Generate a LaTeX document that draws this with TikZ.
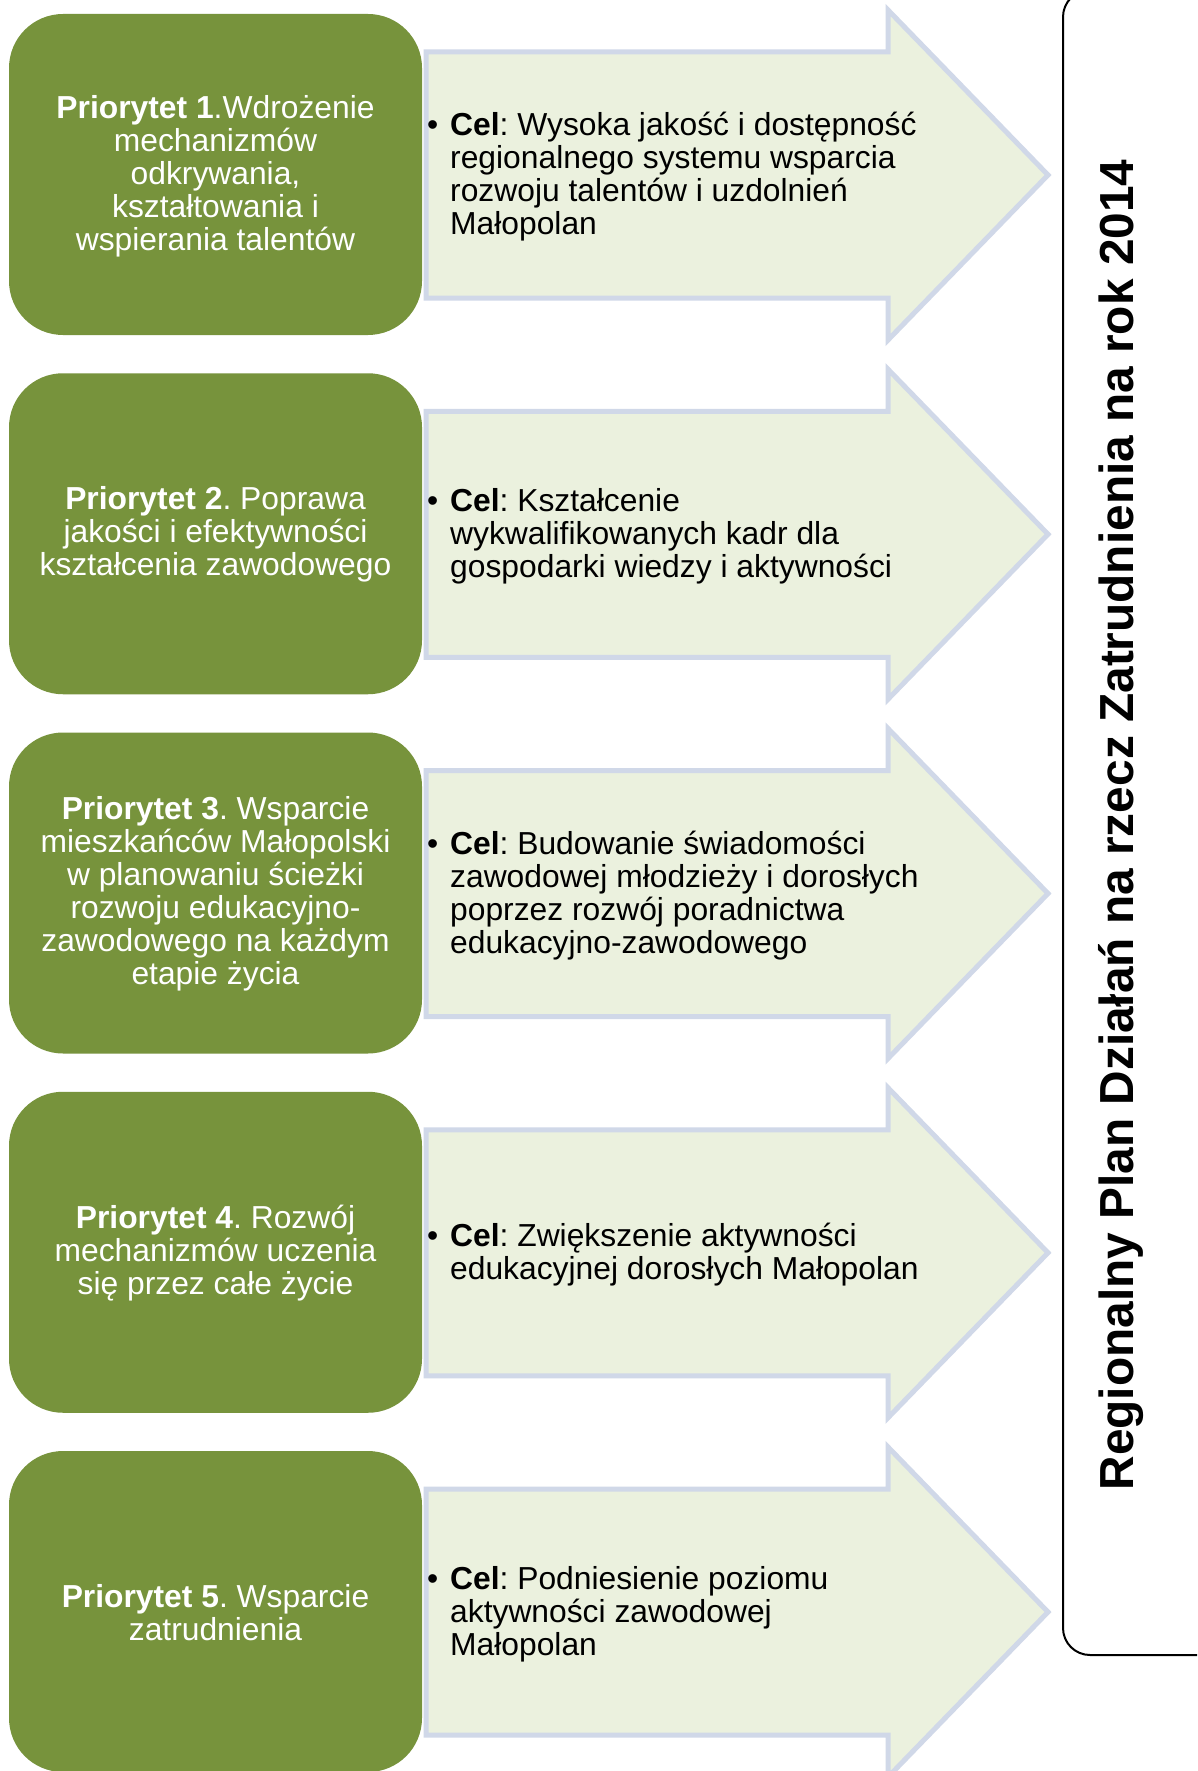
\documentclass[tikz,border=0pt]{standalone}
\usepackage{fontspec}
\setmainfont{Liberation Sans}
\frenchspacing
\definecolor{prioGreen}{RGB}{119,147,60}
\definecolor{goalFill}{RGB}{235,241,222}
\definecolor{goalLine}{RGB}{208,216,232}
\tikzset{
  prio/.style={draw=none, fill=prioGreen, rounded corners=54pt, minimum width=413pt, minimum height=321pt, inner sep=0pt},
  priotext/.style={text=white, align=center, inner sep=0pt, font=\fontsize{31.8}{33}\selectfont},
  goalshape/.style={fill=goalFill, draw=goalLine, line width=5pt},
  goaltext/.style={text=black, align=left, anchor=west, inner sep=0pt, font=\fontsize{31.8}{33}\selectfont},
  titlebox/.style={draw=black, line width=2pt, rounded corners=27pt},
  titletext/.style={font=\fontsize{47.8}{50}\selectfont\bfseries, rotate=90, anchor=base, inner sep=0pt}
}
\newcommand{\goalarrow}[1]{%
  \draw[goalshape] (426,#1-123) -- (888,#1-123) -- (888,#1-165) -- (1048,#1) -- (888,#1+165) -- (888,#1+123) -- (426,#1+123) -- cycle;}
\newcommand{\bul}{\llap{\textbullet\hspace{12pt}}}
\begin{document}
\begin{tikzpicture}[x=1pt,y=-1pt]
\useasboundingbox (0,0) rectangle (1197,1771);
\clip (0,0) rectangle (1197,1771);
\fill[white] (0,0) rectangle (1197,1771);

% goal arrows
\goalarrow{175}
\goalarrow{534.25}
\goalarrow{893.5}
\goalarrow{1252.75}
\goalarrow{1612}

\node[goaltext] (g1) at (450,177) {\bul\textbf{Cel}: Wysoka jakość i dostępność\\regionalnego systemu wsparcia\\rozwoju talentów i uzdolnień\\Małopolan};
\node[goaltext] (g2) at (450,536) {\bul\textbf{Cel}: Kształcenie\\wykwalifikowanych kadr dla\\gospodarki wiedzy i aktywności};
\node[goaltext] (g3) at (450,895.5) {\bul\textbf{Cel}: Budowanie świadomości\\zawodowej młodzieży i dorosłych\\poprzez rozwój poradnictwa\\edukacyjno-zawodowego};
\node[goaltext] (g4) at (450,1254.5) {\bul\textbf{Cel}: Zwiększenie aktywności\\edukacyjnej dorosłych Małopolan};
\node[goaltext] (g5) at (450,1614) {\bul\textbf{Cel}: Podniesienie poziomu\\aktywności zawodowej\\Małopolan};

% priority boxes
\node[prio] (p1) at (215.5,174.5) {};
\node[prio] (p2) at (215.5,533.75) {};
\node[prio] (p3) at (215.5,893) {};
\node[prio] (p4) at (215.5,1252.25) {};
\node[prio] (p5) at (215.5,1611.5) {};

\node[priotext] (t1) at ([yshift=-2pt]p1.center) {\textbf{Priorytet 1}.Wdrożenie\\mechanizmów\\odkrywania,\\kształtowania i\\wspierania talentów};
\node[priotext] (t2) at ([yshift=-1pt]p2.center) {\textbf{Priorytet 2}. Poprawa\\jakości i efektywności\\kształcenia zawodowego};
\node[priotext] (t3) at ([yshift=-1pt]p3.center) {\textbf{Priorytet 3}. Wsparcie\\mieszkańców Małopolski\\w planowaniu ścieżki\\rozwoju edukacyjno-\\zawodowego na każdym\\etapie życia};
\node[priotext] (t4) at ([yshift=-1pt]p4.center) {\textbf{Priorytet 4}. Rozwój\\mechanizmów uczenia\\się przez całe życie};
\node[priotext] (t5) at ([yshift=-1pt]p5.center) {\textbf{Priorytet 5}. Wsparcie\\zatrudnienia};

% title box
\draw[titlebox] (1063,-10) rectangle (1260,1655);
\node[titletext] (title) at (1133,825) {Regionalny Plan Działań na rzecz Zatrudnienia na rok 2014};
\end{tikzpicture}
\end{document}
